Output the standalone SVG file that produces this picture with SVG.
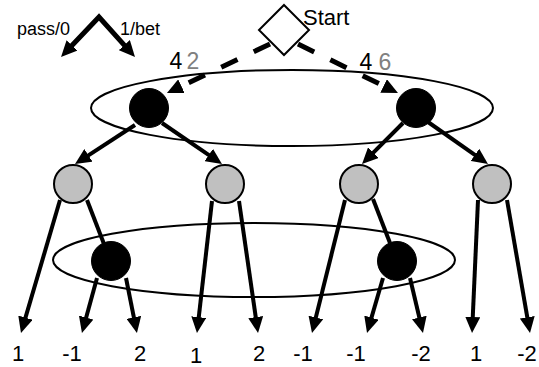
<svg xmlns="http://www.w3.org/2000/svg" width="539" height="367" viewBox="0 0 539 367">
<style>
text{font-family:"Liberation Sans",Arial,sans-serif;fill:#000}
.lbl{font-size:22px;text-anchor:middle}
.gv{fill:#808080}
.edge{stroke:#000;stroke-width:4;fill:none;marker-end:url(#ah)}
.plain{stroke:#000;stroke-width:4;fill:none}
.dash{stroke:#000;stroke-width:5;fill:none;stroke-dasharray:18 18;marker-end:url(#ah)}
.set{fill:none;stroke:#000;stroke-width:2}
.blk{fill:#000;stroke:#000;stroke-width:1}
.gry{fill:#c0c0c0;stroke:#000;stroke-width:2}
.cl{font-size:23px;text-anchor:middle}
</style>
<defs>
<marker id="ah" markerUnits="userSpaceOnUse" markerWidth="16" markerHeight="15" refX="6" refY="7.5" orient="auto-start-reverse" viewBox="0 0 16 15">
<path d="M0,0 L16,7.5 L0,15 z" fill="#000"/>
</marker>
</defs>
<g id="legend">
<path d="M67.9,49.75 L99,17 L128.3,49.6" style="stroke:#000;stroke-width:5;fill:none;marker-start:url(#ah);marker-end:url(#ah)"/>
<text x="17" y="35" style="font-size:18px">pass/0</text>
<text x="120" y="35" style="font-size:18px">1/bet</text>
</g>
<g id="infosets">
<ellipse cx="292" cy="108" rx="201" ry="38" class="set"/>
<ellipse cx="254" cy="260" rx="201" ry="37" class="set"/>
</g>
<g id="connectors">
<path class="dash" d="M270,44 L176,88.7"/>
<path class="dash" d="M298,44 L389,88.6"/>
<path class="edge" d="M135,125 L83.4,158.6"/>
<path class="edge" d="M162,123 L213.7,158.4"/>
<path class="edge" d="M403,123 L369.1,156.9"/>
<path class="edge" d="M428,122 L479.8,158.3"/>
<path class="edge" d="M60,200 L23.8,323.4"/>
<path class="plain" d="M87,200 L104,244"/>
<path class="edge" d="M97,278 L84.6,323.3"/>
<path class="edge" d="M126,278 L135,323.2"/>
<path class="edge" d="M212,201 L198.1,323.1"/>
<path class="edge" d="M239,201 L256.6,323.1"/>
<path class="edge" d="M345,200 L314.4,323.3"/>
<path class="plain" d="M373,199 L390,243"/>
<path class="edge" d="M383,278 L369.8,323.4"/>
<path class="edge" d="M410,278 L420.7,323.3"/>
<path class="edge" d="M478,200 L472.5,323"/>
<path class="edge" d="M507,200 L528.3,323.2"/>
</g>
<g id="start">
<path d="M284,5 L309,30 L284,55 L259,30 z" fill="#fff" stroke="#000" stroke-width="2"/>
<text x="303" y="25" style="font-size:22px">Start</text>
</g>
<g id="chance-labels">
<text x="176" y="69" class="cl">4</text>
<text x="193" y="69" class="cl gv">2</text>
<text x="366" y="70" class="cl">4</text>
<text x="385" y="70" class="cl gv">6</text>
</g>
<g id="p1-left"><circle cx="149" cy="108" r="19.5" class="blk"/></g>
<g id="p1-right"><circle cx="416" cy="108" r="19.5" class="blk"/></g>
<g id="p2-1"><circle cx="73" cy="184" r="19" class="gry"/></g>
<g id="p2-2"><circle cx="225" cy="184" r="19" class="gry"/></g>
<g id="p2-3"><circle cx="359" cy="184" r="19" class="gry"/></g>
<g id="p2-4"><circle cx="492" cy="184" r="19" class="gry"/></g>
<g id="p1-lower-left"><circle cx="111" cy="261" r="19.5" class="blk"/></g>
<g id="p1-lower-right"><circle cx="397" cy="261" r="19.5" class="blk"/></g>
<g id="payoffs">
<text class="lbl" x="18" y="361">1</text>
<text class="lbl" x="72" y="361">-1</text>
<text class="lbl" x="140" y="361">2</text>
<text class="lbl" x="196" y="363">1</text>
<text class="lbl" x="259" y="361">2</text>
<text class="lbl" x="303" y="361">-1</text>
<text class="lbl" x="356" y="361">-1</text>
<text class="lbl" x="421" y="361">-2</text>
<text class="lbl" x="476" y="361">1</text>
<text class="lbl" x="527" y="361">-2</text>
</g>
</svg>
